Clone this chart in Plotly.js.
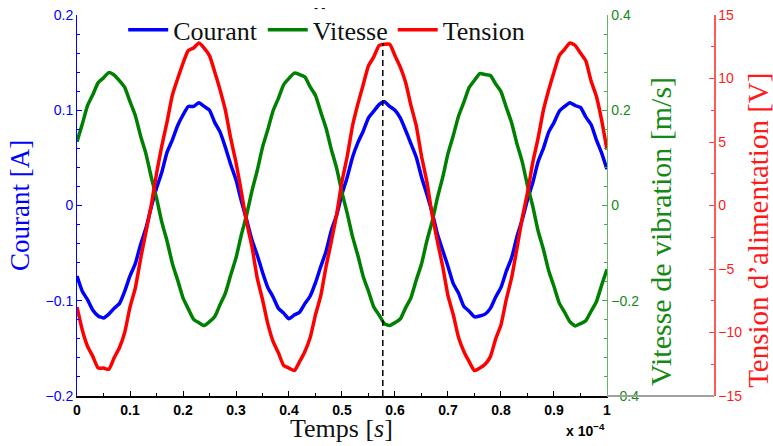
<!DOCTYPE html>
<html><head><meta charset="utf-8">
<script src="https://cdn.plot.ly/plotly-3.0.1.min.js"></script>
<style>html,body{margin:0;padding:0;background:#fff}#chart{width:773px;height:446px}</style>
</head><body><div id="chart"></div>
<script>
// Temps en unités de 1e-4 s
const temps = [0,0.01,0.02,0.03,0.04,0.05,0.06,0.07,0.08,0.09,
0.10,0.11,0.12,0.13,0.14,0.15,0.16,0.17,0.18,0.19,
0.20,0.21,0.22,0.23,0.24,0.25,0.26,0.27,0.28,0.29,
0.30,0.31,0.32,0.33,0.34,0.35,0.36,0.37,0.38,0.39,
0.40,0.41,0.42,0.43,0.44,0.45,0.46,0.47,0.48,0.49,
0.50,0.51,0.52,0.53,0.54,0.55,0.56,0.57,0.58,0.59,
0.60,0.61,0.62,0.63,0.64,0.65,0.66,0.67,0.68,0.69,
0.70,0.71,0.72,0.73,0.74,0.75,0.76,0.77,0.78,0.79,
0.80,0.81,0.82,0.83,0.84,0.85,0.86,0.87,0.88,0.89,
0.90,0.91,0.92,0.93,0.94,0.95,0.96,0.97,0.98,0.99,
1.00];

// Courant [A]
const courant = [-0.074,-0.090,-0.099,-0.110,-0.116,-0.118,-0.114,-0.108,-0.103,-0.090,
-0.074,-0.061,-0.041,-0.024,-0.002,0.018,0.035,0.056,0.069,0.084,
0.095,0.104,0.104,0.108,0.104,0.100,0.087,0.077,0.061,0.043,
0.027,0.005,-0.015,-0.036,-0.052,-0.070,-0.086,-0.096,-0.108,-0.113,
-0.119,-0.115,-0.112,-0.103,-0.095,-0.081,-0.064,-0.048,-0.026,-0.010,
0.012,0.030,0.051,0.066,0.078,0.092,0.099,0.106,0.109,0.104,
0.100,0.092,0.079,0.065,0.051,0.030,0.012,-0.007,-0.030,-0.047,
-0.064,-0.082,-0.092,-0.106,-0.111,-0.117,-0.116,-0.114,-0.108,-0.096,
-0.086,-0.069,-0.055,-0.033,-0.015,0.006,0.024,0.046,0.060,0.077,
0.087,0.099,0.104,0.108,0.105,0.103,0.093,0.085,0.069,0.055,
0.038];

// Vitesse de vibration [m/s]
const vitesse = [0.134,0.171,0.210,0.233,0.258,0.268,0.279,0.274,0.262,0.248,
0.218,0.189,0.146,0.109,0.060,0.016,-0.035,-0.075,-0.122,-0.157,
-0.194,-0.217,-0.239,-0.246,-0.252,-0.244,-0.233,-0.208,-0.184,-0.146,
-0.110,-0.062,-0.020,0.030,0.073,0.122,0.159,0.199,0.225,0.254,
0.267,0.278,0.275,0.270,0.249,0.231,0.196,0.162,0.117,0.078,
0.027,-0.017,-0.066,-0.105,-0.149,-0.180,-0.213,-0.230,-0.248,-0.252,
-0.246,-0.238,-0.215,-0.194,-0.157,-0.123,-0.075,-0.034,0.016,0.059,
0.109,0.147,0.188,0.217,0.248,0.263,0.277,0.275,0.273,0.255,
0.239,0.206,0.174,0.130,0.092,0.042,-0.002,-0.053,-0.092,-0.137,
-0.170,-0.205,-0.224,-0.244,-0.253,-0.248,-0.242,-0.222,-0.202,-0.167,
-0.134];

// Tension d'alimentation [V]
const tension = [-8.0,-9.8,-11.1,-11.9,-12.8,-12.8,-12.9,-12.0,-11.2,-10.0,
-8.0,-6.5,-4.2,-2.1,0.0,2.5,4.7,6.6,8.7,10.0,
11.2,12.2,12.4,12.8,12.4,11.8,10.5,9.1,7.5,5.3,
3.4,1.1,-1.3,-3.2,-5.7,-7.4,-9.3,-10.7,-11.6,-12.6,
-12.8,-13.0,-12.3,-11.5,-10.4,-8.6,-7.1,-4.8,-2.8,-0.7,
1.9,3.9,6.3,8.0,9.5,11.0,11.7,12.6,12.7,12.7,
11.8,10.9,9.7,7.9,6.3,3.9,1.9,-0.7,-2.8,-4.8,
-7.1,-8.6,-10.4,-11.5,-12.3,-13.0,-12.8,-12.5,-11.9,-10.5,
-9.4,-7.4,-5.7,-3.4,-1.0,1.0,3.4,5.3,7.5,9.1,
10.5,11.8,12.3,12.8,12.6,12.0,11.4,9.8,8.6,6.7,
4.4];

// Repère vertical (pointillé) au maximum de tension
const repereT = [0.577, 0.577];
const repereV = [-15, 12.8];

const serif = 'Liberation Serif, Times New Roman, serif';
const sans = 'Liberation Sans, Arial, sans-serif';

const traces = [
  {x: temps, y: courant, name: 'Courant', type: 'scatter', mode: 'lines',
   line: {color: '#0000ff', width: 3.5, shape: 'spline', smoothing: 0.5}, yaxis: 'y'},
  {x: temps, y: vitesse, name: 'Vitesse', type: 'scatter', mode: 'lines',
   line: {color: '#008000', width: 3.5, shape: 'spline', smoothing: 0.5}, yaxis: 'y2'},
  {x: temps, y: tension, name: 'Tension', type: 'scatter', mode: 'lines',
   line: {color: '#ff0000', width: 3.5, shape: 'spline', smoothing: 0.5}, yaxis: 'y3'},
  {x: repereT, y: repereV, showlegend: false, type: 'scatter', mode: 'lines',
   line: {color: '#000000', width: 1.5, dash: '6px,4px'}, yaxis: 'y3', hoverinfo: 'skip'}
];

const layout = {
  width: 773, height: 446,
  margin: {l: 77, r: 59, t: 15, b: 50, autoexpand: false},
  paper_bgcolor: '#ffffff', plot_bgcolor: 'rgba(0,0,0,0)',
  showlegend: true,
  legend: {orientation: 'h', x: 0.392, xanchor: 'center', y: 0.961, yanchor: 'middle',
    bgcolor: 'rgba(0,0,0,0)', font: {family: serif, size: 26, color: '#111'},
    itemwidth: 40, tracegroupgap: 0},
  xaxis: {domain: [0, 0.832], range: [0, 1], autorange: false,
    tick0: 0, dtick: 0.1, ticks: 'inside', ticklen: 5, tickwidth: 1, tickcolor: '#000',
    minor: {ticks: 'inside', ticklen: 3, dtick: 0.05, tickcolor: '#000', showgrid: false},
    showline: true, linecolor: '#000', linewidth: 2, showgrid: false, zeroline: false,
    tickfont: {family: sans, size: 14, color: '#000', weight: 'bold'}},
  yaxis: {range: [-0.2, 0.2], autorange: false, tick0: 0, dtick: 0.1,
    ticks: 'inside', ticklen: 5, tickcolor: '#0000ff',
    minor: {ticks: 'inside', ticklen: 3, dtick: 0.02, tickcolor: '#0000ff', showgrid: false},
    showline: true, linecolor: '#0000ff', linewidth: 1, showgrid: false, zeroline: false,
    tickfont: {family: sans, size: 14, color: '#0000ff'},
    title: {text: 'Courant [A]', font: {family: serif, size: 27, color: '#0000ff'}, standoff: 8}},
  yaxis2: {overlaying: 'y', side: 'right', anchor: 'x', range: [-0.4, 0.4], autorange: false,
    tick0: 0, dtick: 0.2, ticks: 'inside', ticklen: 5, tickcolor: '#4c9f4c',
    minor: {ticks: 'inside', ticklen: 3, dtick: 0.04, tickcolor: '#4c9f4c', showgrid: false},
    showline: true, linecolor: '#6ab46a', linewidth: 1.5, showgrid: false, zeroline: false,
    tickfont: {family: sans, size: 14, color: '#138a13'}},
  yaxis3: {overlaying: 'y', side: 'right', anchor: 'free', position: 1, range: [-15, 15], autorange: false,
    tick0: 0, dtick: 5, ticks: 'inside', ticklen: 5, tickcolor: '#ff4040',
    minor: {ticks: 'inside', ticklen: 3, dtick: 2.5, tickcolor: '#ff4040', showgrid: false},
    showline: true, linecolor: '#ff5a5a', linewidth: 1.5, showgrid: false, zeroline: false,
    tickfont: {family: sans, size: 14, color: '#ff1a1a'}},
  shapes: [
    {type: 'line', xref: 'paper', yref: 'paper', x0: 0.832, x1: 1, y0: 0, y1: 0,
     line: {color: '#a0a0a0', width: 2}}
  ],
  annotations: [
    {xref: 'paper', yref: 'paper', x: 0.416, y: -0.084, xanchor: 'center', yanchor: 'middle',
     text: 'Temps [<i>s</i>]', showarrow: false, borderpad: 0,
     font: {family: serif, size: 26, color: '#111'}},
    {xref: 'paper', yref: 'paper', x: 0.915, y: 0.433, xanchor: 'center', yanchor: 'middle',
     textangle: -90, text: 'Vitesse de vibration [m/s]', showarrow: false,
     font: {family: serif, size: 30, color: '#138a13'}},
    {xref: 'paper', yref: 'paper', x: 1.069, y: 0.436, xanchor: 'center', yanchor: 'middle',
     textangle: -90, text: 'Tension d\u2019alimentation [V]', showarrow: false,
     font: {family: serif, size: 29, color: '#ff1a1a'}},
    {xref: 'paper', yref: 'paper', x: 0.832, y: -0.06, xanchor: 'right', yanchor: 'top',
     text: '<b>x 10<sup>\u22124</sup></b>', showarrow: false,
     font: {family: sans, size: 14, color: '#000'}},
    {xref: 'paper', yref: 'paper', x: 0.381, y: 1.018, xanchor: 'center', yanchor: 'middle',
     text: '- -', showarrow: false, font: {family: sans, size: 12, color: '#000'}}
  ]
};

Plotly.newPlot('chart', traces, layout, {displayModeBar: false, staticPlot: true});
</script>
</body></html>
